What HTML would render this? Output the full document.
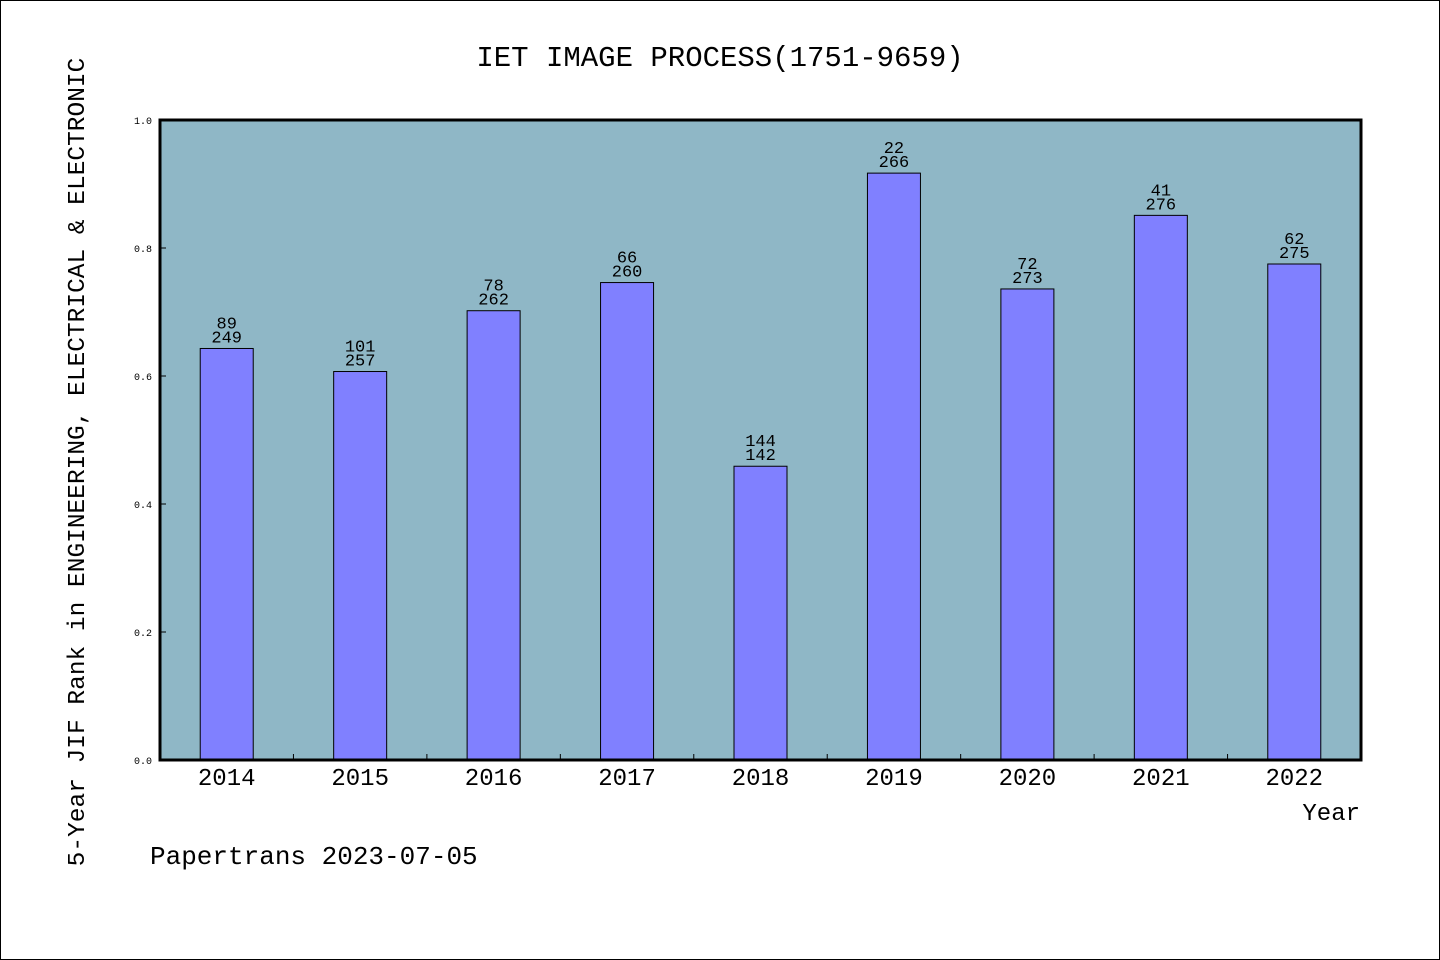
<!DOCTYPE html>
<html><head><meta charset="utf-8"><style>
html,body{margin:0;padding:0;background:#fff}
svg{display:block}
text{font-family:"Liberation Mono","DejaVu Sans Mono",monospace;fill:#000}
</style></head><body>
<svg width="1440" height="960" viewBox="0 0 1440 960">
<rect x="0.5" y="0.5" width="1439" height="959" fill="#fff" stroke="#000"/>
<text x="720" y="66" font-size="29" text-anchor="middle">IET IMAGE PROCESS(1751-9659)</text>
<rect x="160" y="120" width="1201" height="640" fill="#8fb7c6"/>
<g id="bars"></g>
<rect x="160" y="120" width="1201" height="640" fill="none" stroke="#000" stroke-width="3"/>
<text transform="translate(84,462) rotate(-90)" font-size="24.5" text-anchor="middle">5-Year JIF Rank in ENGINEERING, ELECTRICAL &amp; ELECTRONIC</text>
<text x="1360" y="820" font-size="24" text-anchor="end">Year</text>
<text x="150" y="864" font-size="26">Papertrans 2023-07-05</text>
</svg>
<script>
const years = ["2014","2015","2016","2017","2018","2019","2020","2021","2022"];
const values = [0.643,0.607,0.702,0.746,0.459,0.917,0.736,0.851,0.775];
const ranks = ["89","101","78","66","144","22","72","41","62"];
const totals = ["249","257","262","260","142","266","273","276","275"];
const yTicks = [0,0.2,0.4,0.6,0.8,1.0];
const yTickLabels = ["0.0","0.2","0.4","0.6","0.8","1.0"];

const X0=160, W=1201, Y0=760, H=640;
const band = W/years.length;
const xc = i => X0 + band*(i+0.5);
const y = v => Y0 - v*H;
const NS="http://www.w3.org/2000/svg";
const g=document.getElementById('bars');
function mk(tag, attrs){const e=document.createElementNS(NS,tag);for(const k in attrs)e.setAttribute(k,attrs[k]);g.appendChild(e);return e;}

years.forEach((yr,i)=>{
  const top=y(values[i]);
  const r=mk('rect',{x:xc(i)-26.5,y:top,width:53,height:Y0-top,fill:'#8080ff',stroke:'#000','stroke-width':1});
  
  
  const t1=mk('text',{x:xc(i),y:top-20,'font-size':17,'text-anchor':'middle'});
  t1.textContent=ranks[i];
  
  
  const t2=mk('text',{x:xc(i),y:top-6,'font-size':17,'text-anchor':'middle'});
  t2.textContent=totals[i];
  
  
  const xl=mk('text',{x:xc(i),y:785,'font-size':24,'text-anchor':'middle'});
  xl.textContent=yr;
  
  
  if(i>0){
    const tk=mk('line',{x1:X0+band*i,x2:X0+band*i,y1:Y0,y2:Y0-6,stroke:'#000','stroke-width':1});
    
    
  }
});
yTicks.forEach((v,i)=>{
  const tk=mk('line',{x1:X0,x2:X0+6,y1:y(v),y2:y(v),stroke:'#000','stroke-width':1});
  
  
  const tl=mk('text',{x:152,y:y(v)+4,'font-size':10,'text-anchor':'end'});
  tl.textContent=yTickLabels[i];
  
  
});
</script>
</body></html>
